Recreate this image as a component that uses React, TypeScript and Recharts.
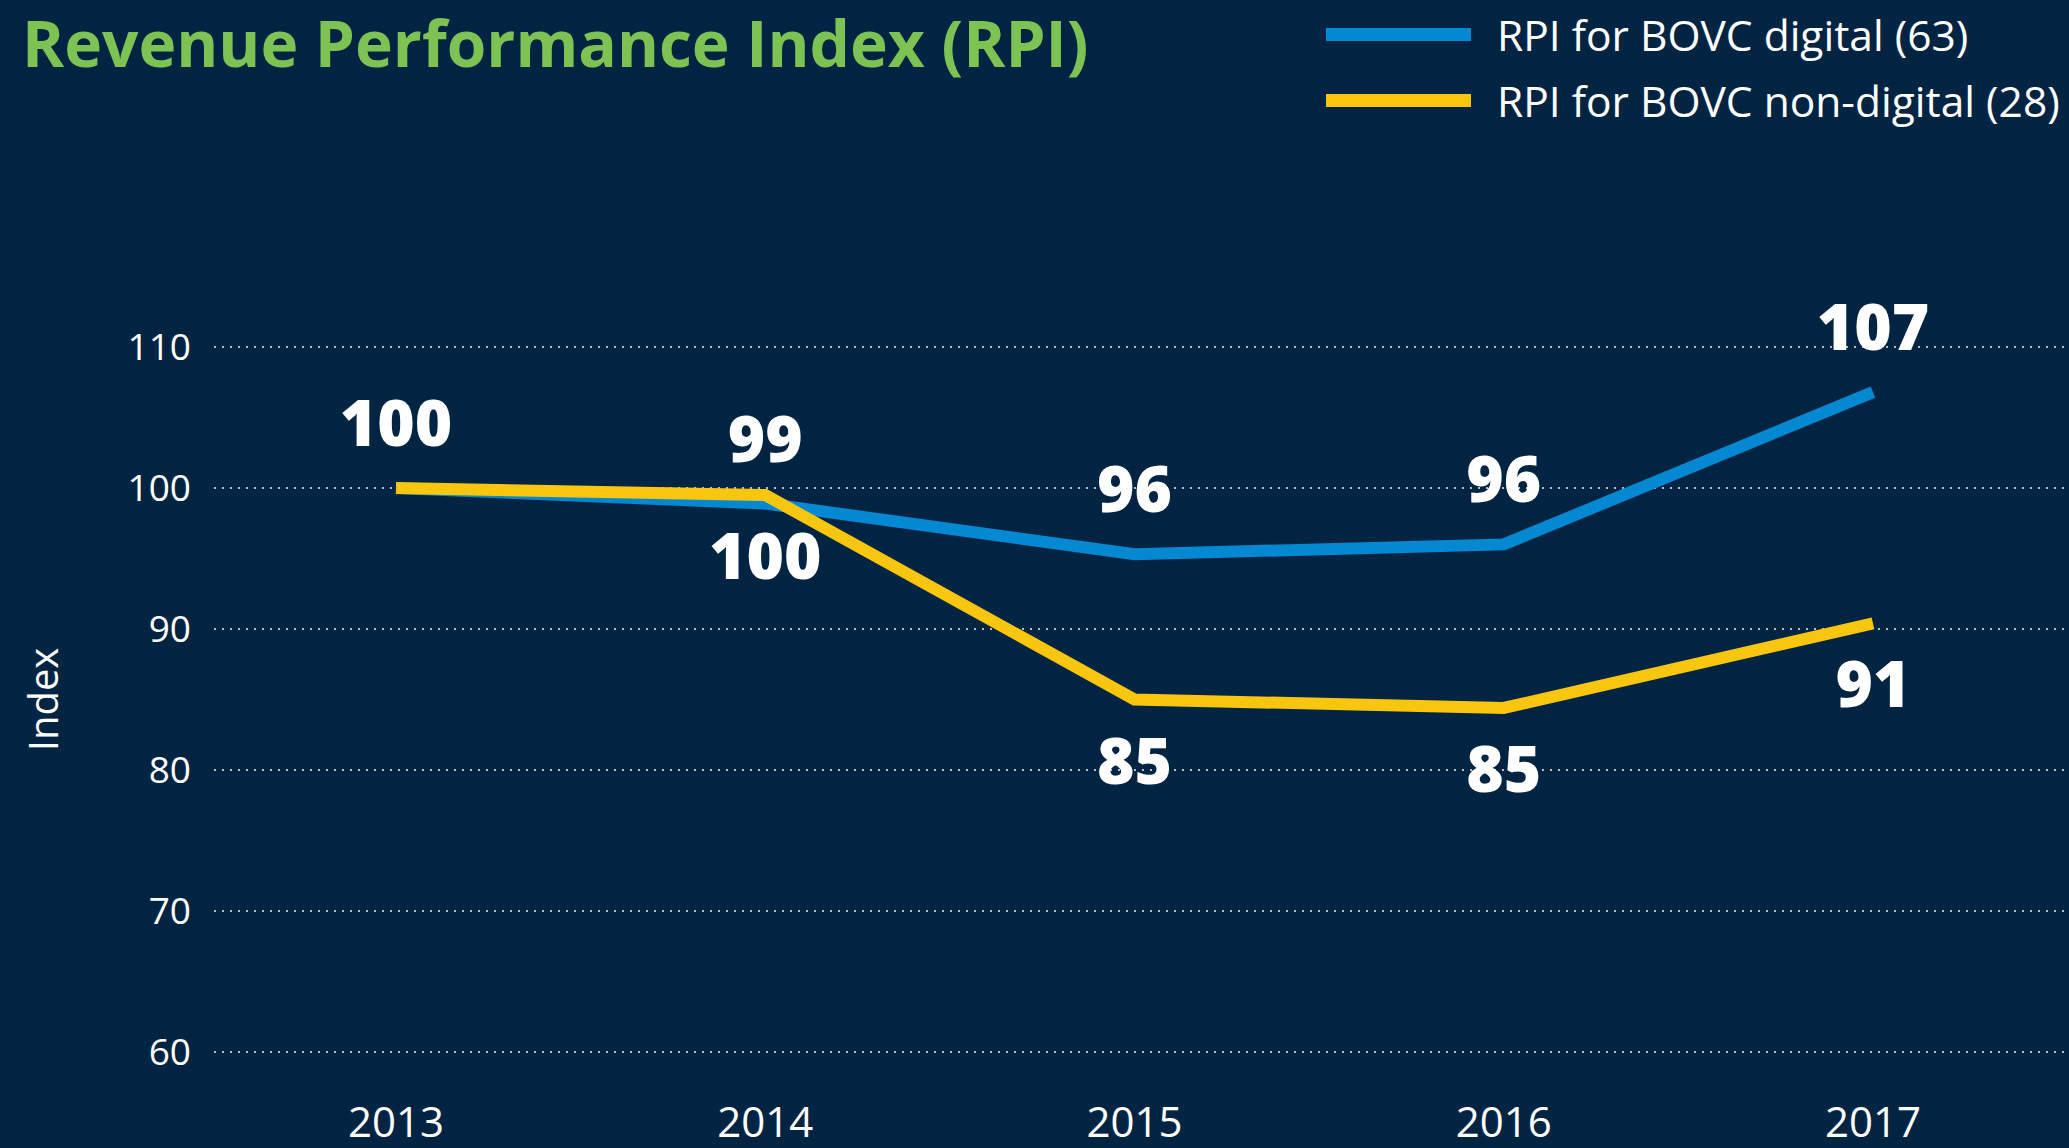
import React from "react";
import { LineChart, Line, XAxis, YAxis, CartesianGrid, LabelList } from "recharts";

const years = ["2013", "2014", "2015", "2016", "2017"];
const digital = [100, 98.9, 95.3, 96.0, 106.8];
const nonDigital = [100, 99.5, 85.0, 84.4, 90.4];
const digitalLabels = ["100", "99", "96", "96", "107"];
const nonDigitalLabels = ["", "100", "85", "85", "91"];
const yTicks = [60, 70, 80, 90, 100, 110];

const seriesNames = ["RPI for BOVC digital (63)", "RPI for BOVC non-digital (28)"];
const colors = ["#0388D1", "#F8C60F"];

const data = years.map((y, i) => ({
  year: y,
  digital: digital[i],
  nonDigital: nonDigital[i],
  digitalLabel: digitalLabels[i],
  nonDigitalLabel: nonDigitalLabels[i],
}));

const BG = "#012442";
const FONT = "'Open Sans', 'DejaVu Sans', sans-serif";

const makeLabel = (above: boolean) => (props: any) => {
  const { x, y, value } = props;
  if (!value) return null;
  return (
    <text
      x={x}
      y={above ? y - 42 : y + 84}
      textAnchor="middle"
      fill="#ffffff"
      fontFamily={FONT}
      fontWeight={800}
      fontSize={64}
    >
      {value}
    </text>
  );
};

const IndexLabel = (props: any) => {
  const vb = props.viewBox || { x: 0, y: 347, width: 214, height: 705 };
  const cx = 42;
  const cy = vb.y + vb.height / 2;
  return (
    <text
      x={cx}
      y={cy}
      transform={`rotate(-90, ${cx}, ${cy})`}
      textAnchor="middle"
      dominantBaseline="central"
      fill="#ffffff"
      fontSize={40}
      fontFamily={FONT}
    >
      Index
    </text>
  );
};

export default function App() {
  return (
    <div style={{ position: "absolute", left: 0, top: 0, width: 2069, height: 1148, background: BG, overflow: "hidden" }}>
      <div
        style={{
          position: "absolute",
          left: 22,
          top: -1,
          fontFamily: FONT,
          fontWeight: 700,
          fontSize: 64,
          color: "#7DC353",
          whiteSpace: "nowrap",
        }}
      >
        Revenue Performance Index (RPI)
      </div>
      <div style={{ position: "absolute", left: 1326, top: 1, fontFamily: FONT }}>
        {seriesNames.map((n, i) => (
          <div key={n} style={{ display: "flex", alignItems: "center", height: 66 }}>
            <div style={{ width: 145, height: 13, background: colors[i], marginRight: 26 }} />
            <span style={{ color: "#ffffff", fontSize: 42.5, whiteSpace: "nowrap" }}>{n}</span>
          </div>
        ))}
      </div>
      <LineChart
        width={2069}
        height={1148}
        data={data}
        margin={{ top: 347, right: 0, left: 0, bottom: 6 }}
      >
        <CartesianGrid vertical={false} stroke="#b9bec6" strokeWidth={2} strokeDasharray="2 6" />
        <XAxis
          dataKey="year"
          axisLine={false}
          tickLine={false}
          tickSize={0}
          tickMargin={55}
          height={90}
          padding={{ left: 182, right: 196 }}
          tick={{ fill: "#ffffff", fontSize: 42, fontFamily: FONT }}
        />
        <YAxis
          domain={[60, 110]}
          ticks={yTicks}
          axisLine={false}
          tickLine={false}
          tickSize={0}
          tickMargin={23}
          width={214}
          tick={{ fill: "#ffffff", fontSize: 37, fontFamily: FONT }}
          label={<IndexLabel />}
        />
        <Line
          type="linear"
          dataKey="digital"
          name={seriesNames[0]}
          stroke={colors[0]}
          strokeWidth={12}
          strokeLinecap="butt"
          dot={false}
          activeDot={false}
          isAnimationActive={false}
        >
          <LabelList dataKey="digitalLabel" content={makeLabel(true)} />
        </Line>
        <Line
          type="linear"
          dataKey="nonDigital"
          name={seriesNames[1]}
          stroke={colors[1]}
          strokeWidth={12}
          strokeLinecap="butt"
          dot={false}
          activeDot={false}
          isAnimationActive={false}
        >
          <LabelList dataKey="nonDigitalLabel" content={makeLabel(false)} />
        </Line>
      </LineChart>
    </div>
  );
}
